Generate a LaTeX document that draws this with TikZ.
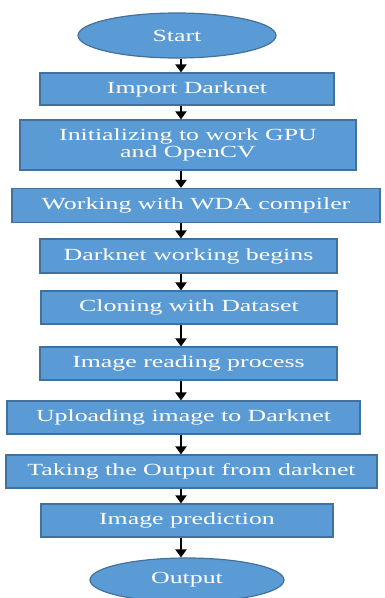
\documentclass[tikz,border=0pt]{standalone}
\usepackage{fontspec}
\setmainfont{Liberation Serif}[FakeStretch=1.52]
\usetikzlibrary{shapes.geometric,arrows.meta}
\definecolor{boxblue}{HTML}{5B9BD5}
\definecolor{boxline}{HTML}{41719C}

\begin{document}
\begin{tikzpicture}[x=1pt,y=-1pt]
   \tikzstyle{every node}=[draw=boxline, line width=1.2pt, fill=boxblue, text=white, inner sep=0pt, align=center, font=\fontsize{17}{17}\selectfont]
   \tikzstyle{terminal}=[ellipse]
   \tikzstyle{flow}=[black, line width=2.8pt, -{Triangle[length=8pt,width=11pt]}]

\useasboundingbox (0,0) rectangle (385,598);
\coordinate (axis) at (181,0);

\node[terminal, minimum width=198pt, minimum height=45pt] (start) at (177,35.5) {Start};
\node[minimum width=294pt, minimum height=32pt] (import) at (187,89) {Import Darknet};
\node[minimum width=336pt, minimum height=50pt] (init) at (188,145) {Initializing to work GPU\\and OpenCV};
\node[minimum width=368pt, minimum height=34pt] (wda) at (196,205.5) {Working with WDA compiler};
\node[minimum width=297pt, minimum height=34pt] (begins) at (188.5,256) {Darknet working begins};
\node[minimum width=296pt, minimum height=33pt] (cloning) at (189,307.5) {Cloning with Dataset};
\node[minimum width=297pt, minimum height=33pt] (reading) at (188.5,363.5) {Image reading process};
\node[minimum width=353pt, minimum height=33pt] (upload) at (183.5,417.5) {Uploading image to Darknet};
\node[minimum width=371pt, minimum height=33pt] (taking) at (191.5,471.5) {Taking the Output from darknet};
\node[minimum width=292pt, minimum height=33pt] (predict) at (187,520.5) {Image prediction};
\node[terminal, minimum width=194pt, minimum height=44pt] (output) at (187,580) {Output};

\draw[flow] (start.south -| axis) -- (import.north -| axis);
\draw[flow] (import.south -| axis) -- (init.north -| axis);
\draw[flow] (init.south -| axis) -- (wda.north -| axis);
\draw[flow] (wda.south -| axis) -- (begins.north -| axis);
\draw[flow] (begins.south -| axis) -- (cloning.north -| axis);
\draw[flow] (cloning.south -| axis) -- (reading.north -| axis);
\draw[flow] (reading.south -| axis) -- (upload.north -| axis);
\draw[flow] (upload.south -| axis) -- (taking.north -| axis);
\draw[flow] (taking.south -| axis) -- (predict.north -| axis);
\draw[flow] (predict.south -| axis) -- (output.north -| axis);

\end{tikzpicture}
\end{document}
